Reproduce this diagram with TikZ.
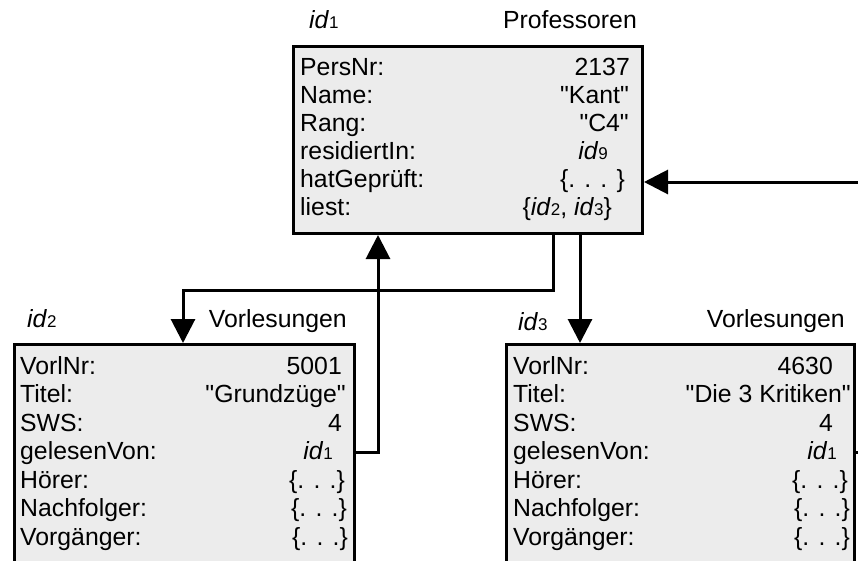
\documentclass[tikz,border=0pt]{standalone}
\usepackage{fontspec}
\setmainfont{Liberation Sans}
\usetikzlibrary{arrows.meta}
\definecolor{boxgray}{RGB}{236,236,236}
\newcommand{\idn}[1]{\textit{id}{\fontsize{17}{17}\selectfont #1}}
\newcommand{\sq}{\XeTeXglyph\XeTeXcharglyph"22\relax}
\begin{document}
\begin{tikzpicture}[x=1pt,y=-1pt,
  objbox/.style={draw, line width=3pt, fill=boxgray, inner sep=0pt, anchor=north west},
  lbl/.style={anchor=base west, inner sep=0pt, font=\fontsize{24.8}{28}\selectfont},
  val/.style={anchor=base east, inner sep=0pt, font=\fontsize{24.8}{28}\selectfont},
  conn/.style={line width=3pt},
  tip/.style={-{Triangle[length=24pt,width=24pt]}}]
\useasboundingbox (0,0) rectangle (858,560);
\clip (0,0) rectangle (858,560);
% boxes
\node[objbox, minimum width=349pt, minimum height=187pt] (top) at (292,45) {};
\node[objbox, minimum width=340pt, minimum height=240pt] (lv) at (13,343) {};
\node[objbox, minimum width=348pt, minimum height=240pt] (rv) at (505,343) {};
% titles
\node[lbl] (tid) at (309,28) {\idn{1}};
\node[val] (tname) at (637,28) {Professoren};
\node[lbl] (lid) at (27,327) {\idn{2}};
\node[val] (lname) at (347,327) {Vorlesungen};
\node[lbl] (rid) at (518,330) {\idn{3}};
\node[val] (rname) at (845,327) {Vorlesungen};
% top rows
\node[lbl] (t1) at (300,75) {PersNr:};
\node[lbl] (t2) at (300,103) {Name:};
\node[lbl] (t3) at (300,131) {Rang:};
\node[lbl] (t4) at (300,159) {residiertIn:};
\node[lbl] (t5) at (300,187) {hatGeprüft:};
\node[lbl] (t6) at (300,215) {liest:};
\node[val] (v1) at (630,75) {2137};
\node[val] (v2) at (629,103) {\sq Kant\sq};
\node[val] (v3) at (629,131) {\sq C4\sq};
\node[val] (v4) at (608,159) {\idn{9}};
\node[val] (v5) at (625,187) {\{. . . \}};
\node[val] (v6) at (612,215) {\{\idn{2}, \idn{3}\}};
% left rows
\node[lbl] (l1) at (20,374) {VorlNr:};
\node[lbl] (l2) at (20,402.5) {Titel:};
\node[lbl] (l3) at (20,431) {SWS:};
\node[lbl] (l4) at (20,459.5) {gelesenVon:};
\node[lbl] (l5) at (20,488) {Hörer:};
\node[lbl] (l6) at (20,516.5) {Nachfolger:};
\node[lbl] (l7) at (20,545) {Vorgänger:};
\node[val] (lv1) at (342,374) {5001};
\node[val] (lv2) at (346,402.5) {\sq Grundzüge\sq};
\node[val] (lv3) at (342,431) {4};
\node[val] (lv4) at (333,459.5) {\idn{1}};
\node[val] (lv5) at (345,488) {\{. . .\}};
\node[val] (lv6) at (347,516.5) {\{. . .\}};
\node[val] (lv7) at (348,545) {\{. . .\}};
% right rows
\node[lbl] (r1) at (513,374) {VorlNr:};
\node[lbl] (r2) at (513,402.5) {Titel:};
\node[lbl] (r3) at (513,431) {SWS:};
\node[lbl] (r4) at (513,459.5) {gelesenVon:};
\node[lbl] (r5) at (513,488) {Hörer:};
\node[lbl] (r6) at (513,516.5) {Nachfolger:};
\node[lbl] (r7) at (513,545) {Vorgänger:};
\node[val] (rv1) at (833,374) {4630};
\node[val] (rv2) at (851,402.5) {\sq Die 3 Kritiken\sq};
\node[val] (rv3) at (833,431) {4};
\node[val] (rv4) at (837,459.5) {\idn{1}};
\node[val] (rv5) at (848,488) {\{. . .\}};
\node[val] (rv6) at (850,516.5) {\{. . .\}};
\node[val] (rv7) at (850,545) {\{. . .\}};
% connectors
\coordinate (inR) at (858,182);
\coordinate (outR) at (858,452);
\draw[conn,tip] (inR) -- (top.east |- inR);
\draw[conn,tip] ([xshift=261pt]top.south west) -- ++(0,55) -| ([xshift=170pt]lv.north west);
\draw[conn,tip] ([xshift=288pt]top.south west) -- ([xshift=75pt]rv.north west);
\draw[conn,tip] ([yshift=-109pt]lv.north east) -| ([xshift=86pt]top.south west);
\draw[conn] (rv.east |- outR) -- (outR);
\end{tikzpicture}
\end{document}
